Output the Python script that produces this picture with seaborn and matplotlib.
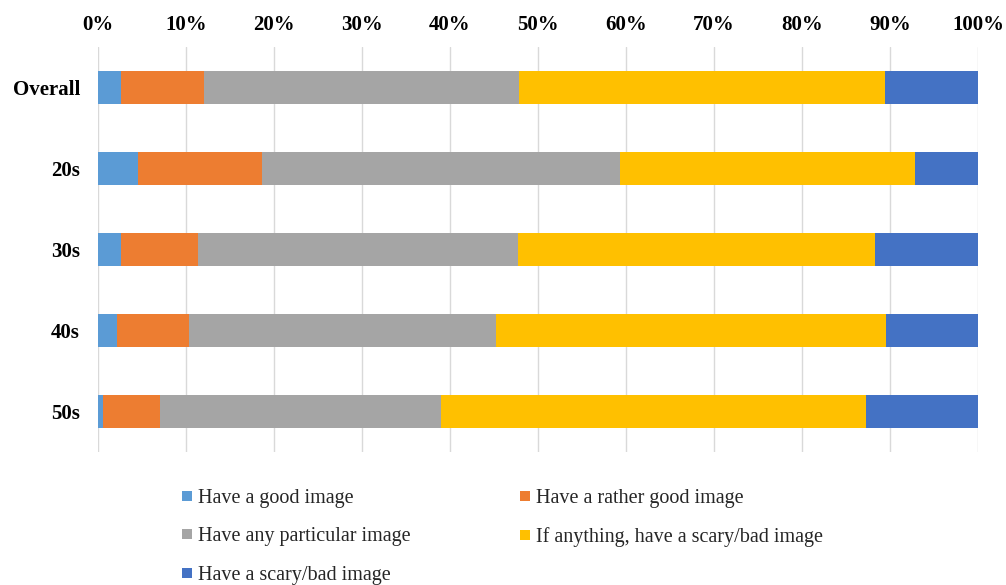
import numpy as np
import pandas as pd
import matplotlib
matplotlib.use("Agg")
import matplotlib.pyplot as plt
import seaborn as sns
from matplotlib.lines import Line2D

categories = ["Overall", "20s", "30s", "40s", "50s"]
series_names = [
    "Have a good image",
    "Have a rather good image",
    "Have any particular image",
    "If anything, have a scary/bad image",
    "Have a scary/bad image",
]
good = [2.6, 4.6, 2.6, 2.2, 0.6]
rather_good = [9.4, 14.0, 8.8, 8.1, 6.4]
particular = [35.8, 40.7, 36.3, 34.9, 32.0]
scary_ish = [41.6, 33.5, 40.6, 44.4, 48.3]
scary_bad = [10.6, 7.2, 11.7, 10.4, 12.7]
colors = ["#5B9BD5", "#ED7D31", "#A5A5A5", "#FFC000", "#4472C4"]
xticks = [0, 10, 20, 30, 40, 50, 60, 70, 80, 90, 100]
xtick_labels = [f"{t}%" for t in xticks]

sns.set_theme(style="white")
plt.rcParams["font.family"] = ["Liberation Serif", "DejaVu Serif"]

series = [good, rather_good, particular, scary_ish, scary_bad]
cum = np.cumsum(np.array(series), axis=0)
cum = cum / cum[-1] * 100.0

fig = plt.figure(figsize=(10.06, 5.85), dpi=100)
ax = fig.add_axes([98 / 1006, 1 - 452 / 585, 880 / 1006, 405 / 585])

for i in range(len(series) - 1, -1, -1):
    df = pd.DataFrame({"cat": categories, "val": cum[i]})
    sns.barplot(data=df, x="val", y="cat", orient="h", color=colors[i],
                width=0.4, saturation=1, linewidth=0, ax=ax, zorder=3)

ax.set_xlim(0, 100)
ax.set_ylim(4.5, -0.5)
ax.set_xticks(xticks)
ax.set_xticklabels(xtick_labels)
ax.xaxis.tick_top()
ax.set_xlabel("")
ax.set_ylabel("")
ax.grid(axis="x", color="#D9D9D9", linewidth=1.0, zorder=0)
ax.grid(axis="y", visible=False)
for s in ax.spines.values():
    s.set_visible(False)
ax.tick_params(axis="x", length=0, pad=8.5, labelsize=15, top=True, bottom=False,
               labeltop=True, labelbottom=False)
ax.tick_params(axis="y", length=0, pad=13, labelsize=15)
for lab in ax.get_xticklabels() + ax.get_yticklabels():
    lab.set_fontweight("bold")
    lab.set_color("#000000")

order = [0, 2, 4, 1, 3]
handles = [Line2D([0], [0], marker="s", linestyle="none", markersize=7.5,
                  markerfacecolor=colors[i], markeredgewidth=0) for i in order]
labels = [series_names[i] for i in order]
fig.legend(handles, labels, ncol=2, loc="upper left",
           bbox_to_anchor=(181 / 1006, 1 - 489 / 585), frameon=False,
           fontsize=14.5, handlelength=0.6, handletextpad=0.25,
           columnspacing=5.35, labelspacing=0.95, borderaxespad=0, borderpad=0)

fig.savefig("out.png", dpi=100, facecolor="white")
